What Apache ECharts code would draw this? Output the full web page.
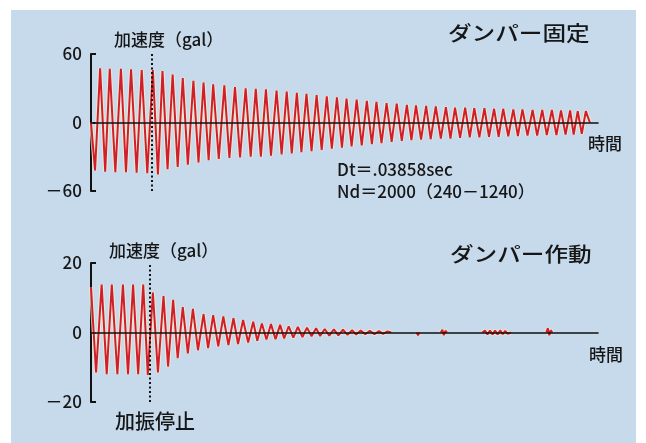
<!DOCTYPE html>
<html>
<head>
<meta charset="utf-8">
<script src="https://cdn.jsdelivr.net/npm/echarts@6/dist/echarts.min.js"></script>
<style>
  html, body { margin: 0; padding: 0; background: #ffffff; }
  #main { width: 646px; height: 443px; }
</style>
</head>
<body>
<div id="main"></div>
<script>
// Sample numbers shown on the time axis (Nd window 240–1240)
const sampleRange = [240, 1240];

// Damper locked: sample number and acceleration (gal) at each turning point
const fixedTime = [
  240, 248, 258, 268, 277, 288, 299, 309, 319, 330, 340, 351, 362, 372, 381, 391,
  401, 411, 421, 431, 442, 452, 462, 472, 481, 492, 503, 513, 524, 534, 545, 555,
  565, 575, 585, 595, 606, 616, 626, 636, 646, 655, 665, 675, 685, 695, 705, 715,
  725, 735, 744, 754, 764, 774, 784, 794, 803, 813, 823, 833, 843, 853, 863, 872,
  881, 891, 901, 910, 920, 930, 940, 949, 958, 968, 978, 987, 996, 1006, 1016, 1025,
  1035, 1044, 1053, 1063, 1073, 1082, 1091, 1101, 1111, 1120, 1130, 1139, 1149, 1158, 1167, 1176,
  1185, 1192, 1200, 1208, 1216, 1224
];
const fixedAccel = [
  0, -42, 47.5, -43, 47, -43.5, 47, -43.5, 46.5, -44, 46, -44.5, 46, -45.5, 45, -41,
  42, -39, 39, -37, 36.5, -35, 35, -33, 33.5, -32, 32.5, -31, 31, -30.5, 30, -30,
  29.5, -30, 29, -29, 28, -28, 27, -27, 26, -26, 25, -25, 24, -24, 23, -23,
  22, -22, 21, -21, 20, -20, 19, -19, 18, -18, 17, -17, 16.5, -16, 15.5, -15.5,
  15, -15, 14.5, -14.5, 14, -14, 13.5, -14, 13, -13.5, 13, -13, 12.5, -13, 12.5, -12.5,
  12, -12.5, 12, -12, 11.5, -12, 11.5, -11.5, 11, -11.5, 11, -11, 11, -11, 10.5, -10.5,
  10.5, -10.5, 10, -10, 10, 0
];

// Damper active: turning points, null where the record sits on the zero line
const activeTime = [
  240, 250, 261, 271, 281, 292, 303, 313, 323, 333, 343, 352, 362, 372, 383, 392,
  402, 411, 421, 431, 441, 451, 462, 471, 481, 491, 501, 511, 521, 530, 540, 550,
  560, 568, 577, 586, 595, 604, 613, 621, 630, 639, 648, 657, 666, 675, 684, 692,
  701, 710, 719, 728, 737, 746, 755, 763, 772, 781, 790, 799, 808, 816, 825, 832,
  850,
  882, 885, 888,
  905,
  930, 933, 936, 939, 942,
  980,
  1012, 1017, 1022, 1027, 1032, 1037, 1042, 1047, 1052, 1057, 1062, 1068,
  1100,
  1138, 1141, 1144, 1147, 1150
];
const activeAccel = [
  13, -11.5, 13.8, -12, 13.8, -12, 13.8, -12, 13.8, -12, 13.8, -12.2, 11.5, -11.5, 10.5, -9.8,
  9.4, -7.4, 7.3, -6, 6.8, -5.1, 5.3, -4.5, 5, -4, 4.6, -3.6, 4.1, -3.3, 3.6, -2.9,
  3.1, -2.4, 2.6, -2, 2.4, -1.9, 2.2, -1.7, 1.8, -1.5, 1.6, -1.3, 1.4, -1.1, 1.2, -1,
  1, -0.9, 0.9, -0.8, 0.8, -0.7, 0.7, -0.6, 0.6, -0.5, 0.5, -0.5, 0.4, -0.4, 0.3, 0,
  null,
  0, -0.8, 0,
  null,
  0, 0.8, -0.8, 0.5, 0,
  null,
  0, 0.6, -0.6, 0.6, -0.6, 0.6, -0.6, 0.6, -0.5, 0.5, -0.4, 0,
  null,
  0, 1.2, -0.8, 0.6, 0
];

// Excitation stop (sample number) in each record
const fixedStopSample = 360;
const activeStopSample = 355;

// Vertical axis ticks and their labels
const fixedTickValues = [-60, 0, 60];
const fixedTickLabels = ['－60', '0', '60'];
const activeTickValues = [-20, 0, 20];
const activeTickLabels = ['－20', '0', '20'];

const FONT = "'Noto Sans CJK JP', 'Noto Sans', sans-serif";
const INK = '#161616';
const WAVE = '#d01f2c';
const HALO = 'rgba(255, 236, 200, 0.75)';

function pairs(times, values) {
  return times.map((t, i) => [t, values[i] === null ? '-' : values[i]]);
}

function xAxisFor(gridIndex) {
  return {
    type: 'value', gridIndex,
    min: sampleRange[0], max: sampleRange[1],
    z: 3,
    axisLine: { show: true, onZero: true, lineStyle: { color: '#111', width: 1.6 } },
    axisTick: { show: false }, axisLabel: { show: false }, splitLine: { show: false }
  };
}

function yAxisFor(gridIndex, values, labels, pad) {
  return {
    type: 'value', gridIndex,
    min: values[0], max: values[2], interval: values[2],
    axisLine: { show: true, lineStyle: { color: '#111', width: 2 } },
    axisTick: { show: true, inside: true, length: 5, lineStyle: { color: '#111', width: 2 } },
    splitLine: { show: false },
    axisLabel: {
      margin: 9, color: INK, fontFamily: FONT, fontSize: 17, fontWeight: 500,
      padding: pad,
      formatter: v => labels[values.indexOf(v)]
    }
  };
}

function stopLine(sample) {
  return {
    silent: true, symbol: ['none', 'none'], animation: false,
    label: { show: false },
    lineStyle: { color: '#111', type: [2, 2.5], width: 2 },
    data: [{ xAxis: sample }]
  };
}

function text(str, x, y, size, opts) {
  return Object.assign({
    type: 'text', x, y, silent: true,
    style: {
      text: str, font: '500 ' + size + 'px ' + FONT, fill: INK,
      align: 'left', verticalAlign: 'middle'
    }
  }, opts || {});
}

// One record drawn twice: a pale underlay and the red trace on top
function trace(axisIndex, data, color, width, z, markLine) {
  const s = {
    type: 'line', xAxisIndex: axisIndex, yAxisIndex: axisIndex,
    data, z, showSymbol: false, silent: true, connectNulls: false,
    lineStyle: { color, width }
  };
  if (markLine) s.markLine = markLine;
  return s;
}

const fixedData = pairs(fixedTime, fixedAccel);
const activeData = pairs(activeTime, activeAccel);

const chart = echarts.init(document.getElementById('main'), null, { renderer: 'canvas' });
chart.setOption({
  animation: false,
  backgroundColor: '#ffffff',
  grid: [
    { left: 91, right: 48, top: 54, height: 137 },
    { left: 91, right: 48, top: 263, height: 139 }
  ],
  xAxis: [xAxisFor(0), xAxisFor(1)],
  yAxis: [
    yAxisFor(0, fixedTickValues, fixedTickLabels, [10, 0, 0, 0]),
    yAxisFor(1, activeTickValues, activeTickLabels, [2, 0, 0, 0])
  ],
  graphic: [
    { type: 'rect', z: -100, silent: true,
      shape: { x: 11, y: 10, width: 625, height: 440 },
      style: { fill: '#c6daec' } },
    text('ダンパー固定', 448, 33, 20, { scaleX: 1.18 }),
    text('加速度（gal）', 114, 40, 17),
    text('時間', 588, 144, 17),
    text('Dt＝.03858sec', 337, 170, 17),
    text('Nd＝2000（240－1240）', 337, 192, 17),
    text('ダンパー作動', 450, 254, 20, { scaleX: 1.18 }),
    text('加速度（gal）', 109, 251, 17),
    text('時間', 589, 355, 17),
    text('加振停止', 115, 421, 20)
  ],
  series: [
    trace(0, fixedData, HALO, 4, 1),
    trace(0, fixedData, WAVE, 2, 2, stopLine(fixedStopSample)),
    trace(1, activeData, HALO, 4, 1),
    trace(1, activeData, WAVE, 2, 2, stopLine(activeStopSample))
  ]
});
</script>
</body>
</html>
